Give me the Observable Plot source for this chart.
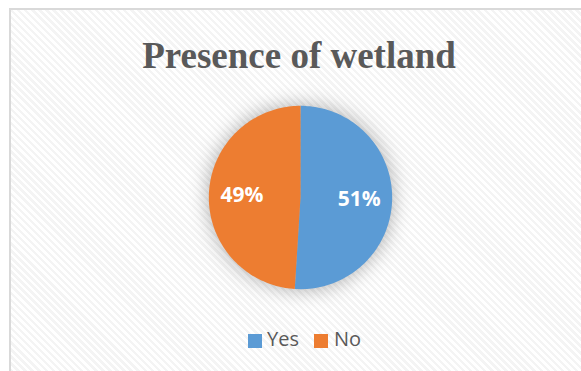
<!DOCTYPE html>
<html>
<head>
<meta charset="utf-8">
<script src="https://cdn.jsdelivr.net/npm/d3@7"></script>
<script src="https://cdn.jsdelivr.net/npm/@observablehq/plot@0.6"></script>
<style>
  html, body { margin: 0; padding: 0; background: #fff; }
  #page { position: relative; width: 581px; height: 371px; overflow: hidden; background: #fff; }
  #frame {
    position: absolute; left: 9px; top: 8px; width: 580px; height: 380px;
    border-top: 2px solid #d9d9d9; border-left: 2px solid #d9d9d9;
    background: repeating-linear-gradient(45deg, #ffffff 0px, #ffffff 2.5px, #f4f4f4 2.5px, #f4f4f4 5px);
  }
  #title {
    position: absolute; left: 0; width: 598px; top: 37px; text-align: center;
    font-family: "Liberation Serif", "Times New Roman", serif; font-weight: bold;
    font-size: 37px; line-height: 37px; color: #595959; white-space: nowrap;
  }
  #chart { position: absolute; left: 190px; top: 86.5px; }
  #chart svg { overflow: visible; background: transparent; }
  #chart .slices { filter: drop-shadow(0px 0px 10px rgba(0,0,0,0.32)); }
  .sw { position: absolute; width: 14px; height: 14px; }
  .lt { position: absolute; font-family: "Open Sans", sans-serif; font-size: 20px; line-height: 20px; color: #595959; white-space: nowrap; }
</style>
</head>
<body>
<div id="page">
  <div id="frame"></div>
  <div id="title">Presence of wetland</div>
  <div id="chart"></div>
  <div id="legend"></div>
</div>
<script>
const categories = ["Yes", "No"];
const values = [51, 49];
const labels = ["51%", "49%"];
const colors = ["#5B9BD5", "#ED7D31"];

const data = categories.map((c, i) => ({category: c, value: values[i], label: labels[i]}));
const arcs = d3.pie().sort(null).value(d => d.value)(data);

// slice outlines from the pie angles
const pts = [];
arcs.forEach(a => {
  const n = 120;
  pts.push({category: a.data.category, x: 0, y: 0});
  for (let k = 0; k <= n; k++) {
    const t = a.startAngle + (a.endAngle - a.startAngle) * k / n;
    pts.push({category: a.data.category, x: Math.sin(t), y: Math.cos(t)});
  }
});
const lab = arcs.map(a => {
  const m = (a.startAngle + a.endAngle) / 2;
  return {label: a.data.label, x: 0.64 * Math.sin(m), y: 0.64 * Math.cos(m)};
});

const plot = Plot.plot({
  width: 220, height: 220,
  margin: 0,
  x: {domain: [-1.2, 1.2], axis: null},
  y: {domain: [-1.2, 1.2], axis: null},
  color: {domain: categories, range: colors},
  style: {background: "transparent", overflow: "visible"},
  marks: [
    Plot.line(pts, {x: "x", y: "y", z: "category", fill: "category", stroke: "none", className: "slices"}),
    Plot.text(lab, {x: "x", y: "y", text: "label", fill: "white", fontSize: 21, fontWeight: "bold", fontFamily: "Open Sans, sans-serif"})
  ]
});
document.getElementById("chart").appendChild(plot);

// legend
const legend = document.getElementById("legend");
const swX = [248, 314], txX = [267, 334];
categories.forEach((c, i) => {
  const s = document.createElement("div");
  s.className = "sw"; s.style.left = swX[i] + "px"; s.style.top = "334px"; s.style.background = colors[i];
  legend.appendChild(s);
  const t = document.createElement("div");
  t.className = "lt"; t.style.left = txX[i] + "px"; t.style.top = "329px"; t.textContent = c;
  legend.appendChild(t);
});
</script>
</body>
</html>
